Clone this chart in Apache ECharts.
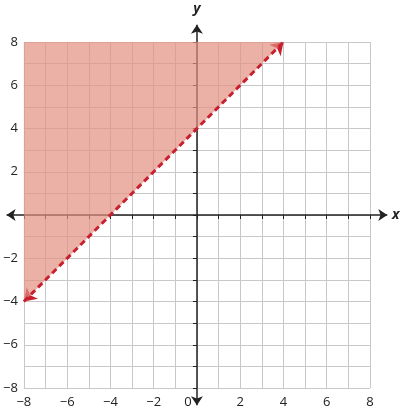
<!DOCTYPE html>
<html><head><meta charset="utf-8">
<script src="https://cdn.jsdelivr.net/npm/echarts@6/dist/echarts.min.js"></script>
<style>html,body{margin:0;background:#fff}#c{width:404px;height:411px}</style>
</head><body><div id="c"></div>
<script>
const boundaryLine = [[-8, -4], [4, 8]];
const xAxisEnds = [[-8.8, 0], [8.8, 0]];
const yAxisEnds = [[0, -8.8], [0, 8.8]];
const tickLabels = [-8, -6, -4, -2, 0, 2, 4, 6, 8];

const chart = echarts.init(document.getElementById("c"));
const lab = (v, isX) => {
  if (!tickLabels.includes(v)) return "";
  if (v === 0) return isX ? "{z|0}" : "";
  return v < 0 ? "\u2212" + Math.abs(v) : String(v);
};
const hiddenLine = { show: true, onZero: true, lineStyle: { opacity: 0 } };
chart.setOption({
  animation: false,
  grid: { left: 20, right: 34, top: 42, bottom: 23 },
  xAxis: {
    type: "value", min: -8, max: 8, interval: 1,
    name: "x", nameGap: 22,
    nameTextStyle: { fontStyle: "italic", fontWeight: "bold", fontSize: 14, color: "#222", fontFamily: "Open Sans" },
    axisLine: hiddenLine,
    axisTick: { show: true, length: 4, lineStyle: { color: "#222" } },
    axisLabel: {
      formatter: (v) => lab(v, true), fontSize: 13, color: "#222", fontFamily: "Open Sans", margin: 8,
      rich: { z: { fontSize: 13, color: "#222", padding: [0, 18, 0, 0] } }
    },
    splitLine: { lineStyle: { color: "#c8c8c8" } }
  },
  yAxis: {
    type: "value", min: -8, max: 8, interval: 1,
    name: "y", nameGap: 26,
    nameTextStyle: { fontStyle: "italic", fontWeight: "bold", fontSize: 14, color: "#222", fontFamily: "Open Sans" },
    axisLine: hiddenLine,
    axisTick: { show: true, length: 4, lineStyle: { color: "#222" } },
    axisLabel: { formatter: (v) => lab(v, false), fontSize: 13, color: "#222", fontFamily: "Open Sans", margin: 6 },
    splitLine: { lineStyle: { color: "#c8c8c8" } }
  },
  series: [
    {
      type: "line", data: boundaryLine, symbol: "none",
      lineStyle: { width: 0 },
      areaStyle: { origin: "end", color: "#e28f80", opacity: 0.7 }
    },
    {
      type: "lines", coordinateSystem: "cartesian2d", clip: false,
      symbol: ["arrow", "arrow"], symbolSize: 9,
      lineStyle: { color: "#222", width: 1.5, opacity: 1 },
      data: [{ coords: xAxisEnds }, { coords: yAxisEnds }]
    },
    {
      type: "line", data: boundaryLine, symbol: "none", clip: false,
      lineStyle: { color: "#c8202f", width: 3, type: [6, 4] }
    },
    {
      type: "lines", coordinateSystem: "cartesian2d", clip: false,
      symbol: ["arrow", "arrow"], symbolSize: 12,
      lineStyle: { color: "#c8202f", width: 0.1, opacity: 1 },
      data: [{ coords: boundaryLine }]
    }
  ]
});
</script></body></html>
